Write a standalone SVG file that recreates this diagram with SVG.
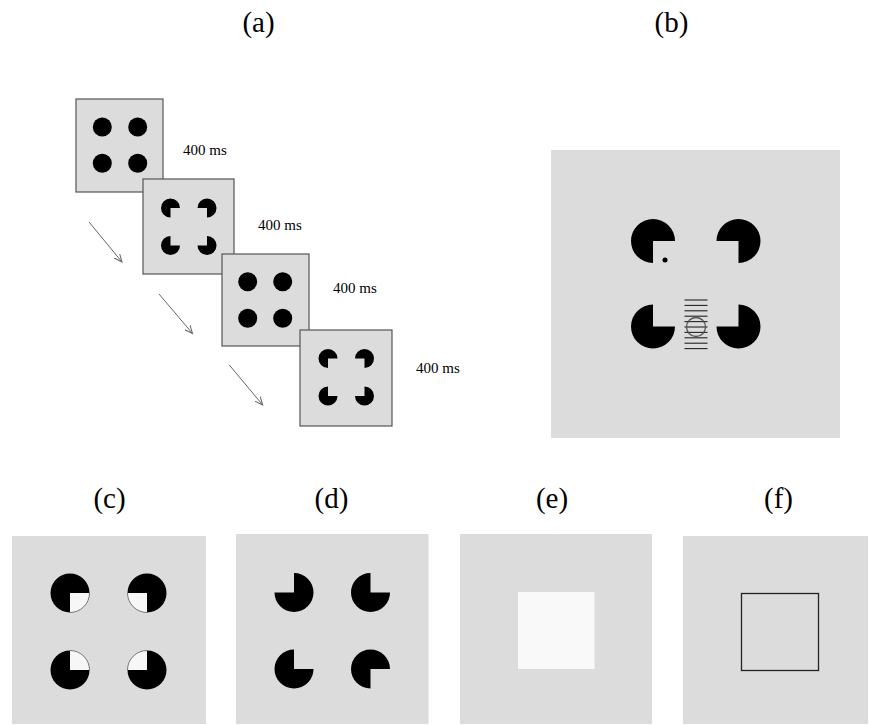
<svg xmlns="http://www.w3.org/2000/svg" width="869" height="725" viewBox="0 0 869 725">
<style>
.lbl{font-family:"Liberation Serif","Times New Roman",serif;font-size:29px;text-anchor:middle;fill:#000}
.ms{font-family:"Liberation Serif","Times New Roman",serif;font-size:15px;fill:#000}
.frame{fill:#dcdcdc;stroke:#555;stroke-width:1.2}
.bg{fill:#dcdcdc}
.blk{fill:#000}
.wq{fill:#f7f7f7}
.arc{fill:none;stroke:#777;stroke-width:1}
.arrow{stroke:#666;stroke-width:1;fill:none;marker-end:url(#ah)}
.grat{stroke:#222;stroke-width:1.1}
</style>
<defs>
<marker id="ah" markerWidth="10" markerHeight="8" refX="8" refY="4" orient="auto" markerUnits="userSpaceOnUse">
<path d="M0,0.5 L8,4 L0,7.5" fill="none" stroke="#666" stroke-width="1"/>
</marker>
</defs>
<rect width="869" height="725" fill="#fff"/>

<g id="labels">
<text class="lbl" x="258.5" y="31.5">(a)</text>
<text class="lbl" x="671.5" y="31.5">(b)</text>
<text class="lbl" x="109.5" y="508">(c)</text>
<text class="lbl" x="331.5" y="508">(d)</text>
<text class="lbl" x="552" y="508">(e)</text>
<text class="lbl" x="778.5" y="508">(f)</text>
</g>

<g id="panel-a">
<g id="frame1">
<rect class="frame" x="76" y="99" width="87" height="93"/>
<circle class="blk" cx="102.3" cy="127" r="9.5"/>
<circle class="blk" cx="137.7" cy="127" r="9.5"/>
<circle class="blk" cx="102.3" cy="163.3" r="9.5"/>
<circle class="blk" cx="137.7" cy="163.3" r="9.5"/>
</g>
<g id="frame2">
<rect class="frame" x="143" y="179" width="91" height="95"/>
<path class="blk" d="M170.5 208 L170.5 217.5 A9.5 9.5 0 1 1 180 208 Z"/>
<path class="blk" d="M207 208 L197.5 208 A9.5 9.5 0 1 1 207 217.5 Z"/>
<path class="blk" d="M170.5 245.5 L180 245.5 A9.5 9.5 0 1 1 170.5 236 Z"/>
<path class="blk" d="M207 245.5 L207 236 A9.5 9.5 0 1 1 197.5 245.5 Z"/>
</g>
<g id="frame3">
<rect class="frame" x="222" y="254" width="87" height="92"/>
<circle class="blk" cx="247.7" cy="281.7" r="9.5"/>
<circle class="blk" cx="282.7" cy="281.7" r="9.5"/>
<circle class="blk" cx="247.7" cy="318.3" r="9.5"/>
<circle class="blk" cx="282.7" cy="318.3" r="9.5"/>
</g>
<g id="frame4">
<rect class="frame" x="300" y="330" width="92" height="96"/>
<path class="blk" d="M328 358.5 L328 368 A9.5 9.5 0 1 1 337.5 358.5 Z"/>
<path class="blk" d="M364.5 358.5 L355 358.5 A9.5 9.5 0 1 1 364.5 368 Z"/>
<path class="blk" d="M328 396 L337.5 396 A9.5 9.5 0 1 1 328 386.5 Z"/>
<path class="blk" d="M364.5 396 L364.5 386.5 A9.5 9.5 0 1 1 355 396 Z"/>
</g>
<text class="ms" x="183" y="155">400 ms</text>
<text class="ms" x="258" y="230">400 ms</text>
<text class="ms" x="333" y="293">400 ms</text>
<text class="ms" x="416" y="373">400 ms</text>
</g>

<g id="connectors">
<line class="arrow" x1="89" y1="222" x2="122" y2="262"/>
<line class="arrow" x1="159" y1="294" x2="192.5" y2="333.5"/>
<line class="arrow" x1="229.3" y1="365" x2="262.7" y2="405"/>
</g>

<g id="panel-b">
<rect class="bg" x="551" y="150" width="289" height="288"/>
<path class="blk" d="M653 241 L653 263 A22 22 0 1 1 675 241 Z"/>
<path class="blk" d="M738.5 241 L716.5 241 A22 22 0 1 1 738.5 263 Z"/>
<path class="blk" d="M653 326.5 L675 326.5 A22 22 0 1 1 653 304.5 Z"/>
<path class="blk" d="M738.5 326.5 L738.5 304.5 A22 22 0 1 1 716.5 326.5 Z"/>
<circle class="blk" cx="665" cy="260" r="2.5"/>
<g class="grat">
<line x1="684.5" y1="300" x2="707.5" y2="300"/>
<line x1="684.5" y1="305.4" x2="707.5" y2="305.4"/>
<line x1="684.5" y1="310.8" x2="707.5" y2="310.8"/>
<line x1="684.5" y1="316.2" x2="707.5" y2="316.2"/>
<line x1="684.5" y1="321.6" x2="707.5" y2="321.6"/>
<line x1="684.5" y1="327" x2="707.5" y2="327"/>
<line x1="684.5" y1="332.4" x2="707.5" y2="332.4"/>
<line x1="684.5" y1="337.8" x2="707.5" y2="337.8"/>
<line x1="684.5" y1="343.2" x2="707.5" y2="343.2"/>
<line x1="684.5" y1="348.6" x2="707.5" y2="348.6"/>
</g>
<circle cx="696" cy="327" r="9.5" fill="none" stroke="#555" stroke-width="1.3"/>
</g>

<g id="panel-c">
<rect class="bg" x="12" y="536" width="194" height="188"/>
<path class="blk" d="M70 593 L70 612.5 A19.5 19.5 0 1 1 89.5 593 Z"/>
<path class="wq" d="M70 593 L89.5 593 A19.5 19.5 0 0 1 70 612.5 Z"/>
<path class="arc" d="M89.5 593 A19.5 19.5 0 0 1 70 612.5"/>
<path class="blk" d="M147 593 L127.5 593 A19.5 19.5 0 1 1 147 612.5 Z"/>
<path class="wq" d="M147 593 L147 612.5 A19.5 19.5 0 0 1 127.5 593 Z"/>
<path class="arc" d="M147 612.5 A19.5 19.5 0 0 1 127.5 593"/>
<path class="blk" d="M70 670 L89.5 670 A19.5 19.5 0 1 1 70 650.5 Z"/>
<path class="wq" d="M70 670 L70 650.5 A19.5 19.5 0 0 1 89.5 670 Z"/>
<path class="arc" d="M70 650.5 A19.5 19.5 0 0 1 89.5 670"/>
<path class="blk" d="M147 670 L147 650.5 A19.5 19.5 0 1 1 127.5 670 Z"/>
<path class="wq" d="M147 670 L127.5 670 A19.5 19.5 0 0 1 147 650.5 Z"/>
<path class="arc" d="M127.5 670 A19.5 19.5 0 0 1 147 650.5"/>
</g>

<g id="panel-d">
<rect class="bg" x="236" y="534" width="192.5" height="190"/>
<path class="blk" d="M294 592.5 L294 573 A19.5 19.5 0 1 1 274.5 592.5 Z"/>
<path class="blk" d="M370.5 592.5 L390 592.5 A19.5 19.5 0 1 1 370.5 573 Z"/>
<path class="blk" d="M294 669 L313.5 669 A19.5 19.5 0 1 1 294 649.5 Z"/>
<path class="blk" d="M370.5 669 L370.5 688.5 A19.5 19.5 0 1 1 390 669 Z"/>
</g>

<g id="panel-e">
<rect class="bg" x="460" y="534" width="192" height="190"/>
<rect x="518" y="592" width="76.5" height="77" fill="#f9f9f9"/>
</g>

<g id="panel-f">
<rect class="bg" x="683" y="536" width="185" height="188"/>
<rect x="741.5" y="593.5" width="77" height="77" fill="none" stroke="#222" stroke-width="1.3"/>
</g>
</svg>
